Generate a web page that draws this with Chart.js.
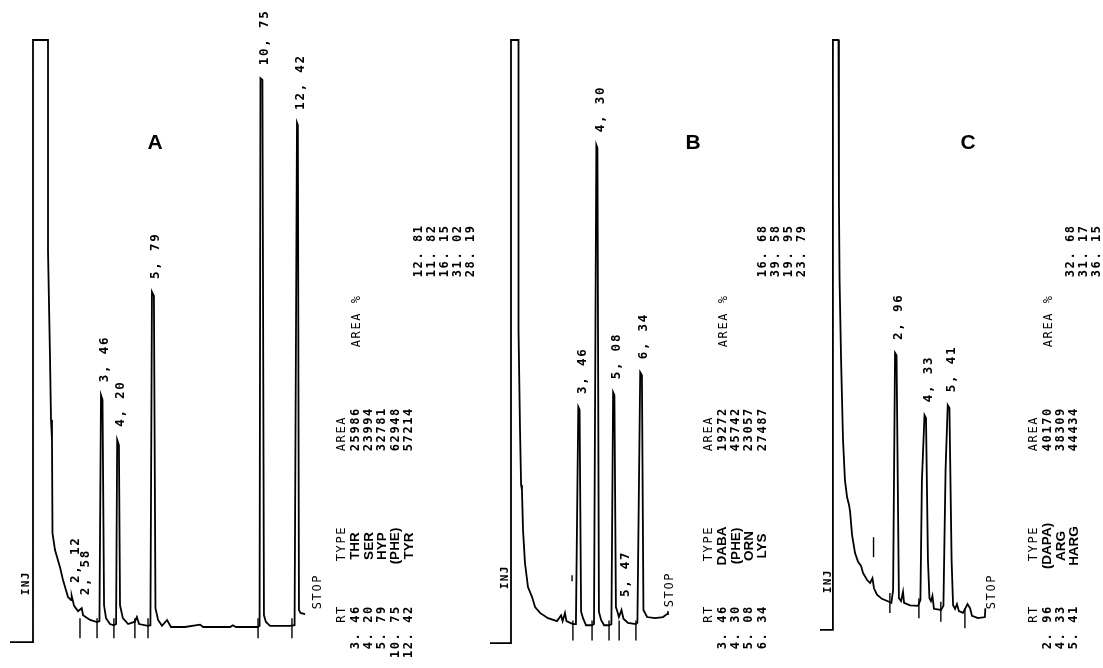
<!DOCTYPE html>
<html>
<head>
<meta charset="utf-8">
<script src="https://cdn.jsdelivr.net/npm/chart.js@4.4.1/dist/chart.umd.min.js"></script>
<style>
html,body{margin:0;padding:0;background:#fff;width:1103px;height:668px;overflow:hidden}
canvas{position:absolute;top:0}
</style>
</head>
<body>
<canvas id="cA" width="490" height="668" style="left:0px"></canvas>
<canvas id="cB" width="320" height="668" style="left:490px"></canvas>
<canvas id="cC" width="293" height="668" style="left:810px"></canvas>
<script>
// ---------------- DATA ----------------
// Panel A chromatogram (time in min, detector signal in % of full scale)
const A_time   = [-0.70,0.352,0.352,1.038,1.038,1.129,1.175,1.22,1.243,1.358,1.586,1.723,1.952,2.09,2.12,2.23,2.41,2.58,2.64,2.96,3.28,3.39,3.46,3.53,3.60,3.69,3.87,4.05,4.15,4.20,4.28,4.33,4.46,4.70,5.01,5.10,5.20,5.61,5.72,5.79,5.88,5.95,6.07,6.25,6.48,6.66,7.30,7.99,8.13,9.36,9.49,9.63,10.63,10.71,10.75,10.84,10.91,11.00,11.19,12.10,12.31,12.42,12.46,12.51,12.58,12.79];
const A_signal = [-2.56,-2.56,100,100,64.2,46.0,35.3,31.9,16.0,13.1,10.2,8.0,5.1,4.6,5.3,3.6,2.7,3.2,2.0,1.2,0.85,1.0,39.5,38.7,3.7,1.5,0.5,0.3,0.5,31.9,31.0,3.7,1.5,0.5,0.9,1.7,0.5,0.2,0.3,57.1,56.4,3.2,1.2,0.2,1.2,0,0,0.4,0,0,0.3,0,0,0.2,93.5,93.2,2.0,0.85,0.2,0.2,0.3,85.9,85.5,2.9,2.4,2.2];
const A_peakTimes = [2.12,2.58,3.46,4.20,5.79,10.75,12.42];
const A_markTimes = [2.50,3.28,4.05,5.01,5.61,10.64,12.19];
const A_markLevels = [-0.2,-0.2,-0.2,-0.2,-0.2,-0.2,-0.2];
const A_rt   = [3.46,4.20,5.79,10.75,12.42];
const A_type = ['THR','SER','HYP','(PHE)','TYR'];
const A_area = [25986,23994,32781,62948,57214];
const A_pct  = [12.81,11.82,16.15,31.02,28.19];

// Panel B
const B_time   = [-0.65,0.33,0.33,0.68,0.68,0.75,0.80,0.84,0.89,0.98,1.12,1.31,1.45,1.68,2.05,2.47,2.66,2.73,2.84,2.91,3.21,3.35,3.46,3.52,3.59,3.68,3.82,4.10,4.19,4.30,4.35,4.42,4.52,4.66,4.89,5.00,5.08,5.14,5.21,5.28,5.35,5.47,5.56,5.77,6.14,6.21,6.34,6.42,6.49,6.66,7.03,7.40,7.59,7.63];
const B_signal = [-2.73,-2.73,100,100,50.6,33.6,24.2,23.3,16.5,10.9,6.8,5.1,3.4,2.4,1.5,1.0,2.0,1.0,2.4,1.0,0.5,0.5,37.5,37.0,2.6,1.5,0.3,0.3,0.5,82.1,81.6,2.6,1.2,0.3,0.3,0.5,40.0,39.5,3.4,2.6,1.7,2.9,1.4,0.7,0.5,0.7,43.4,42.9,2.9,1.7,1.5,1.7,2.2,2.7];
const B_peakTimes = [3.46,4.30,5.08,5.47,6.34];
const B_markTimes = [3.21,4.10,4.89,5.36,6.14];
const B_markLevels = [-0.6,-0.6,-0.6,-0.6,-0.6];
const B_eventTimes = [3.17];
const B_eventLevels = [8.3];
const B_rt   = [3.46,4.30,5.08,6.34];
const B_type = ['DABA','(PHE)','ORN','LYS'];
const B_area = [19272,45742,23057,27487];
const B_pct  = [16.68,39.58,19.95,23.79];

// Panel C
const C_time   = [-0.53,0.07,0.07,0.33,0.35,0.38,0.45,0.54,0.63,0.73,0.82,0.87,0.96,1.10,1.24,1.38,1.47,1.66,1.80,1.91,1.98,2.12,2.35,2.68,2.79,2.87,2.96,3.03,3.14,3.24,3.33,3.38,3.66,4.03,4.14,4.21,4.33,4.40,4.49,4.56,4.63,4.70,4.77,5.10,5.21,5.31,5.41,5.49,5.59,5.66,5.75,5.84,5.93,6.12,6.26,6.33,6.45,6.54,6.82,7.14,7.16];
const C_signal = [-0.5,-0.5,100,100,72.7,59.1,45.5,31.9,25.0,22.1,20.8,19.6,15.7,12.6,11.1,10.4,9.2,8.0,7.5,8.3,6.6,5.5,4.8,4.3,4.1,6.3,46.7,46.3,4.9,4.4,6.0,4.1,3.7,3.6,4.6,25.0,36.1,35.6,11.4,4.9,4.4,5.3,3.1,2.9,3.6,26.7,37.8,37.3,11.4,3.7,3.1,3.9,2.7,2.4,3.4,3.9,3.2,1.9,1.5,1.7,3.2];
const C_peakTimes = [2.96,4.33,5.41];
const C_markTimes = [2.72,4.07,5.09,6.21];
const C_markLevels = [4.1,3.2,2.6,1.5];
const C_eventTimes = [1.96];
const C_eventLevels = [13.6];
const C_rt   = [2.96,4.33,5.41];
const C_type = ['(DAPA)','ARG','HARG'];
const C_area = [40170,38309,44434];
const C_pct  = [32.68,31.17,36.15];

// ---------------- LAYOUT ----------------
const BASE_Y = 627, PX_PER_UNIT = 5.87, PAGE_H = 668;
const STEP = 13.4, ADV = 8.8;
const LABEL_FONT = 'bold 12.5px "DejaVu Sans Mono", "Liberation Mono", monospace';
const NUM_FONT   = 'bold 12px "DejaVu Sans Mono", "Liberation Mono", monospace';
const HEAD_FONT  = '12px "DejaVu Sans Mono", "Liberation Mono", monospace';
const TYPE_FONT  = 'bold 13.5px "Liberation Sans", Arial, sans-serif';
const LETTER_FONT= 'bold 21px "Liberation Sans", Arial, sans-serif';
const INJ_FONT   = 'bold 11px "DejaVu Sans Mono", monospace';

const panels = [
  {id:'cA', letter:'A', left:0, width:490, x0:25.3, ppm:21.875,
   time:A_time, signal:A_signal, peaks:A_peakTimes, marks:A_markTimes, markLv:A_markLevels,
   events:[], eventLv:[], eventR:3,
   letterPos:[155,143], inj:[26,596], stop:[318,610],
   table:{rt:A_rt, type:A_type, area:A_area, pct:A_pct, headX:342, rowX0:355.4, pctHeadX:357, pctX0:419}},
  {id:'cB', letter:'B', left:490, width:320, x0:503.9, ppm:21.5,
   time:B_time, signal:B_signal, peaks:B_peakTimes, marks:B_markTimes, markLv:B_markLevels,
   events:B_eventTimes, eventLv:B_eventLevels, eventR:3,
   letterPos:[693,143], inj:[505,590], stop:[670,608],
   table:{rt:B_rt, type:B_type, area:B_area, pct:B_pct, headX:709, rowX0:722.4, pctHeadX:724, pctX0:763}},
  {id:'cC', letter:'C', left:810, width:293, x0:831.4, ppm:21.5,
   time:C_time, signal:C_signal, peaks:C_peakTimes, marks:C_markTimes, markLv:C_markLevels,
   events:C_eventTimes, eventLv:C_eventLevels, eventR:10,
   letterPos:[968,143], inj:[828,594], stop:[992,610],
   table:{rt:C_rt, type:C_type, area:C_area, pct:C_pct, headX:1034, rowX0:1047.4, pctHeadX:1049, pctX0:1071}}
];

function fmt(v, sep){ return v.toFixed(2).replace('.', sep); }

// text running bottom-to-top, x = centre line, y = start (bottom) / end (top)
function drawUp(ctx, str, x, y, adv, align){
  ctx.save();
  ctx.translate(x, y);
  ctx.rotate(-Math.PI/2);
  ctx.textBaseline = 'middle';
  ctx.textAlign = 'center';
  const n = str.length;
  const off = align === 'end' ? -n*adv : (align === 'center' ? -n*adv/2 : 0);
  for (let i = 0; i < n; i++) ctx.fillText(str[i], off + (i+0.5)*adv, 0);
  ctx.restore();
}
function drawUpWhole(ctx, str, x, yc){
  ctx.save();
  ctx.translate(x, yc);
  ctx.rotate(-Math.PI/2);
  ctx.textBaseline = 'middle';
  ctx.textAlign = 'center';
  ctx.fillText(str, 0, 0);
  ctx.restore();
}

function makeTextPlugin(P){
  return {
    id: 'txt' + P.letter,
    afterDraw(chart){
      const ctx = chart.ctx, xs = chart.scales.x, ys = chart.scales.y, L = P.left;
      ctx.save();
      ctx.fillStyle = '#000';
      // peak retention-time labels
      ctx.font = LABEL_FONT;
      P.peaks.forEach(tp => {
        let vmax = -Infinity;
        P.time.forEach((t, j) => { if (Math.abs(t - tp) <= 0.08) vmax = Math.max(vmax, P.signal[j]); });
        const x = xs.getPixelForValue(tp) + 4;
        const y = ys.getPixelForValue(vmax) - 12;
        drawUp(ctx, fmt(tp, ', '), x, y, 9.3, 'start');
      });
      // INJ / STOP
      ctx.font = INJ_FONT;
      drawUp(ctx, 'INJ', P.inj[0] - L, P.inj[1], 8, 'start');
      ctx.font = HEAD_FONT;
      drawUp(ctx, 'STOP', P.stop[0] - L, P.stop[1], 8.8, 'start');
      // panel letter
      ctx.font = LETTER_FONT;
      ctx.textAlign = 'center'; ctx.textBaseline = 'middle';
      ctx.fillText(P.letter, P.letterPos[0] - L, P.letterPos[1]);
      // report table
      const T = P.table;
      ctx.font = HEAD_FONT;
      drawUp(ctx, 'RT', T.headX - L, 606, ADV, 'end');
      drawUp(ctx, 'TYPE', T.headX - L, 562, ADV, 'start');
      drawUp(ctx, 'AREA', T.headX - L, 452, ADV, 'start');
      drawUp(ctx, 'AREA %', T.pctHeadX - L, 348, ADV, 'start');
      T.rt.forEach((r, i) => {
        const x = T.rowX0 - L + i*STEP;
        ctx.font = NUM_FONT;
        drawUp(ctx, fmt(r, '. '), x, 606, ADV, 'end');
        drawUp(ctx, String(T.area[i]), x, 452, ADV, 'start');
        ctx.font = TYPE_FONT;
        drawUpWhole(ctx, T.type[i], x, 546);
      });
      ctx.font = NUM_FONT;
      T.pct.forEach((v, i) => drawUp(ctx, fmt(v, '. '), T.pctX0 - L + i*13, 278, ADV, 'start'));
      ctx.restore();
    }
  };
}

panels.forEach(P => {
  const xmin = (P.left - P.x0) / P.ppm;
  const xmax = (P.left + P.width - P.x0) / P.ppm;
  const ymax = BASE_Y / PX_PER_UNIT;
  const ymin = (BASE_Y - PAGE_H) / PX_PER_UNIT;
  const datasets = [
    { data: P.time.map((t, i) => ({x: t, y: P.signal[i]})),
      borderColor: '#000', borderWidth: 1.8, pointRadius: 0, tension: 0, fill: false },
    { data: P.marks.map((t, i) => ({x: t, y: P.markLv[i]})),
      showLine: false, pointStyle: 'line', rotation: 90, pointRadius: 10,
      borderColor: '#000', borderWidth: 1.4 }
  ];
  if (P.events.length) datasets.push({
      data: P.events.map((t, i) => ({x: t, y: P.eventLv[i]})),
      showLine: false, pointStyle: 'line', rotation: 90, pointRadius: P.eventR,
      borderColor: '#000', borderWidth: 1.4 });
  new Chart(document.getElementById(P.id), {
    type: 'line',
    data: { datasets },
    options: {
      responsive: false, animation: false, events: [],
      layout: { padding: 0, autoPadding: false },
      plugins: { legend: {display: false}, tooltip: {enabled: false} },
      scales: {
        x: { type: 'linear', min: xmin, max: xmax, display: false },
        y: { type: 'linear', min: ymin, max: ymax, display: false }
      }
    },
    plugins: [makeTextPlugin(P)]
  });
});
</script>
</body>
</html>
